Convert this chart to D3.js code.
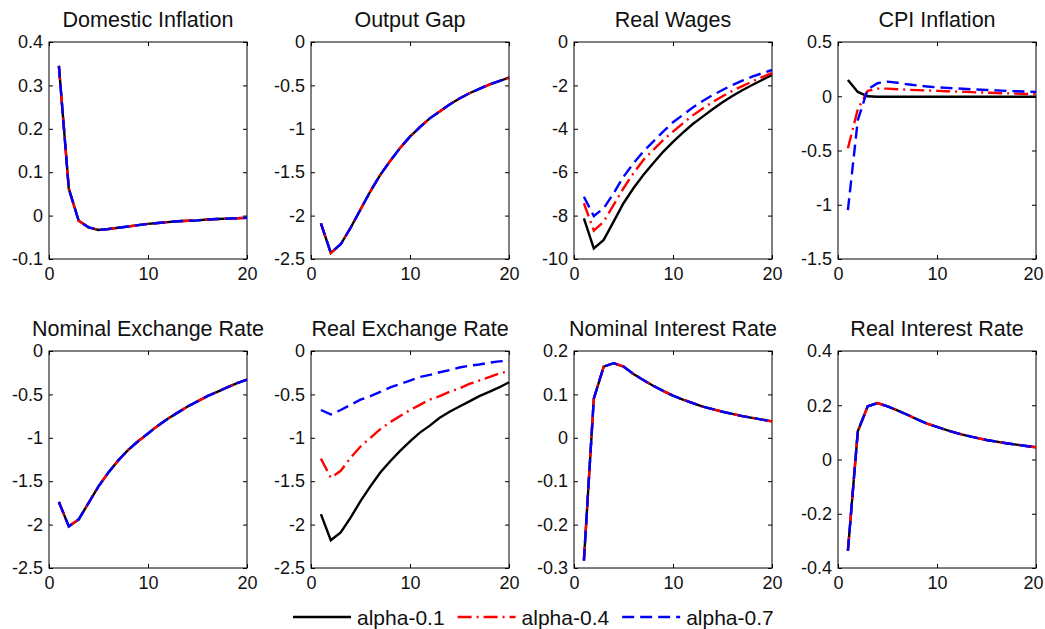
<!DOCTYPE html>
<html>
<head>
<meta charset="utf-8">
<script src="https://cdn.jsdelivr.net/npm/d3@7"></script>
<style>
  body { margin: 0; background: #fff; }
  text { font-family: "Liberation Sans", Arial, sans-serif; fill: #111; }
</style>
</head>
<body>
<svg id="chart" width="1045" height="629"></svg>
<script>
// horizon (quarters)
const periods = [1, 2, 3, 4, 5, 6, 7, 8, 9, 10, 11, 12, 13, 14, 15, 16, 17, 18, 19, 20];
const seriesNames = ["alpha-0.1", "alpha-0.4", "alpha-0.7"];
const xTicks = [0, 10, 20];

// Domestic Inflation (the three cases overlap)
const domInfl = [0.345, 0.062, -0.012, -0.027, -0.033, -0.031, -0.028, -0.025, -0.022, -0.019,
  -0.017, -0.015, -0.013, -0.012, -0.011, -0.009, -0.008, -0.007, -0.006, -0.005];
const domInflTicks = [-0.1, 0, 0.1, 0.2, 0.3, 0.4];

// Output Gap (overlap)
const outputGap = [-2.09, -2.43, -2.33, -2.14, -1.93, -1.72, -1.53, -1.37, -1.22, -1.09,
  -0.98, -0.88, -0.80, -0.72, -0.65, -0.59, -0.54, -0.49, -0.45, -0.41];
const outputGapTicks = [-2.5, -2, -1.5, -1, -0.5, 0];

// Real Wages
const wages01 = [-8.13, -9.51, -9.12, -8.28, -7.43, -6.74, -6.13, -5.59, -5.06, -4.60,
  -4.18, -3.78, -3.44, -3.10, -2.78, -2.49, -2.22, -1.98, -1.75, -1.52];
const wages04 = [-7.43, -8.69, -8.28, -7.51, -6.74, -6.05, -5.44, -4.98, -4.52, -4.13,
  -3.75, -3.38, -3.06, -2.77, -2.50, -2.25, -2.03, -1.82, -1.62, -1.42];
const wages07 = [-7.13, -8.02, -7.66, -6.97, -6.21, -5.59, -5.05, -4.59, -4.13, -3.70,
  -3.36, -3.02, -2.72, -2.45, -2.21, -1.98, -1.78, -1.60, -1.44, -1.29];
const wagesTicks = [-10, -8, -6, -4, -2, 0];

// CPI Inflation
const cpi01 = [0.15, 0.04, 0.0, -0.005, -0.005, -0.005, -0.005, -0.005, -0.005, -0.005,
  -0.005, -0.005, -0.005, -0.005, -0.005, -0.005, -0.005, -0.005, -0.005, -0.005];
const cpi04 = [-0.48, -0.12, 0.05, 0.07, 0.07, 0.065, 0.06, 0.056, 0.053, 0.05,
  0.046, 0.043, 0.04, 0.036, 0.033, 0.03, 0.027, 0.024, 0.021, 0.018];
const cpi07 = [-1.05, -0.22, 0.065, 0.12, 0.135, 0.125, 0.11, 0.1, 0.09, 0.082,
  0.077, 0.072, 0.067, 0.062, 0.058, 0.054, 0.05, 0.046, 0.043, 0.04];
const cpiTicks = [-1.5, -1, -0.5, 0, 0.5];

// Nominal Exchange Rate (overlap)
const nomExch = [-1.74, -2.02, -1.94, -1.75, -1.56, -1.40, -1.26, -1.14, -1.04, -0.95,
  -0.86, -0.78, -0.71, -0.64, -0.58, -0.52, -0.47, -0.42, -0.37, -0.33];
const exchTicks = [-2.5, -2, -1.5, -1, -0.5, 0];

// Real Exchange Rate
const realExch01 = [-1.88, -2.18, -2.09, -1.92, -1.73, -1.56, -1.40, -1.27, -1.15, -1.04,
  -0.94, -0.86, -0.77, -0.70, -0.64, -0.58, -0.52, -0.47, -0.42, -0.36];
const realExch04 = [-1.24, -1.46, -1.38, -1.23, -1.10, -1.00, -0.90, -0.82, -0.75, -0.68,
  -0.62, -0.56, -0.52, -0.47, -0.43, -0.38, -0.34, -0.30, -0.26, -0.23];
const realExch07 = [-0.68, -0.73, -0.68, -0.62, -0.56, -0.52, -0.47, -0.42, -0.38, -0.34,
  -0.30, -0.275, -0.245, -0.22, -0.19, -0.17, -0.155, -0.135, -0.12, -0.11];

// Nominal Interest Rate (overlap)
const nomRate = [-0.283, 0.09, 0.164, 0.172, 0.164, 0.147, 0.133, 0.12, 0.108, 0.097,
  0.088, 0.08, 0.072, 0.066, 0.06, 0.055, 0.05, 0.046, 0.042, 0.038];
const nomRateTicks = [-0.3, -0.2, -0.1, 0, 0.1, 0.2];

// Real Interest Rate (overlap)
const realRate = [-0.337, 0.104, 0.196, 0.208, 0.196, 0.181, 0.165, 0.148, 0.132, 0.12,
  0.108, 0.097, 0.088, 0.08, 0.072, 0.066, 0.06, 0.055, 0.05, 0.045];
const realRateTicks = [-0.4, -0.2, 0, 0.2, 0.4];

const panels = [
  { title: "Domestic Inflation", ticks: domInflTicks, series: [domInfl, domInfl, domInfl] },
  { title: "Output Gap", ticks: outputGapTicks, series: [outputGap, outputGap, outputGap] },
  { title: "Real Wages", ticks: wagesTicks, series: [wages01, wages04, wages07] },
  { title: "CPI Inflation", ticks: cpiTicks, series: [cpi01, cpi04, cpi07] },
  { title: "Nominal Exchange Rate", ticks: exchTicks, series: [nomExch, nomExch, nomExch] },
  { title: "Real Exchange Rate", ticks: exchTicks, series: [realExch01, realExch04, realExch07] },
  { title: "Nominal Interest Rate", ticks: nomRateTicks, series: [nomRate, nomRate, nomRate] },
  { title: "Real Interest Rate", ticks: realRateTicks, series: [realRate, realRate, realRate] }
];

// styles
const colors = ["#000000", "#ff0000", "#0000ff"];
const dashes = [null, "14,5,2,5", "12,6"];

const W = 1045;
const colLeft = [49, 311, 574, 838];
const rowTop = [42, 351];
const pw = 198, ph = 217;
const tickLen = 4;
const fmt = d => `${+d.toFixed(2)}`;

const svg = d3.select("#chart");

panels.forEach((p, i) => {
  const ox = colLeft[i % 4];
  const g = svg.append("g")
    .attr("transform", `translate(${ox},${rowTop[Math.floor(i / 4)]})`);

  const x = d3.scaleLinear().domain([0, 20]).range([0, pw]);
  const y = d3.scaleLinear().domain(d3.extent(p.ticks)).range([ph, 0]);

  // axes with inward ticks on all four sides
  const left = g.append("g")
    .call(d3.axisLeft(y).tickValues(p.ticks).tickFormat(fmt).tickSizeInner(-tickLen).tickSizeOuter(0).tickPadding(6));
  const right = g.append("g").attr("transform", `translate(${pw},0)`)
    .call(d3.axisRight(y).tickValues(p.ticks).tickFormat("").tickSizeInner(-tickLen).tickSizeOuter(0));
  const bottom = g.append("g").attr("transform", `translate(0,${ph})`)
    .call(d3.axisBottom(x).tickValues(xTicks).tickFormat(fmt).tickSizeInner(-tickLen).tickSizeOuter(0).tickPadding(8));
  const top = g.append("g")
    .call(d3.axisTop(x).tickValues(xTicks).tickFormat("").tickSizeInner(-tickLen).tickSizeOuter(0));

  [left, right, bottom, top].forEach(a => {
    a.select(".domain").remove();
    a.selectAll("line").attr("stroke", "#000");
    a.selectAll("text").attr("font-size", 18).attr("fill", "#111")
      .style("font-family", '"Liberation Sans", Arial, sans-serif');
  });

  // keep the last x label inside the page
  bottom.selectAll(".tick text").each(function(d) {
    const wdt = this.getComputedTextLength();
    const rightEdge = ox + x(d) + wdt / 2;
    if (rightEdge > W - 2) d3.select(this).attr("x", (W - 2) - rightEdge);
  });

  g.append("rect")
    .attr("width", pw).attr("height", ph)
    .attr("fill", "none").attr("stroke", "#000").attr("stroke-width", 1);

  const line = d3.line()
    .x((d, k) => x(periods[k]))
    .y(d => y(d));

  p.series.forEach((s, k) => {
    g.append("path")
      .datum(s)
      .attr("d", line)
      .attr("fill", "none")
      .attr("stroke", colors[k])
      .attr("stroke-width", 2.4)
      .attr("stroke-dasharray", dashes[k]);
  });

  g.append("text")
    .attr("x", pw / 2)
    .attr("y", -15)
    .attr("text-anchor", "middle")
    .attr("font-size", 21.5)
    .text(p.title);
});

// legend
const legend = svg.append("g").attr("transform", "translate(293,617)");
let lx = 0;
seriesNames.forEach((name, k) => {
  legend.append("line")
    .attr("x1", lx).attr("x2", lx + 58)
    .attr("y1", 0).attr("y2", 0)
    .attr("stroke", colors[k])
    .attr("stroke-width", 2.4)
    .attr("stroke-dasharray", dashes[k]);
  const t = legend.append("text")
    .attr("x", lx + 64)
    .attr("y", 8)
    .attr("font-size", 21)
    .text(name);
  lx += 64 + t.node().getComputedTextLength() + 13;
});
</script>
</body>
</html>
